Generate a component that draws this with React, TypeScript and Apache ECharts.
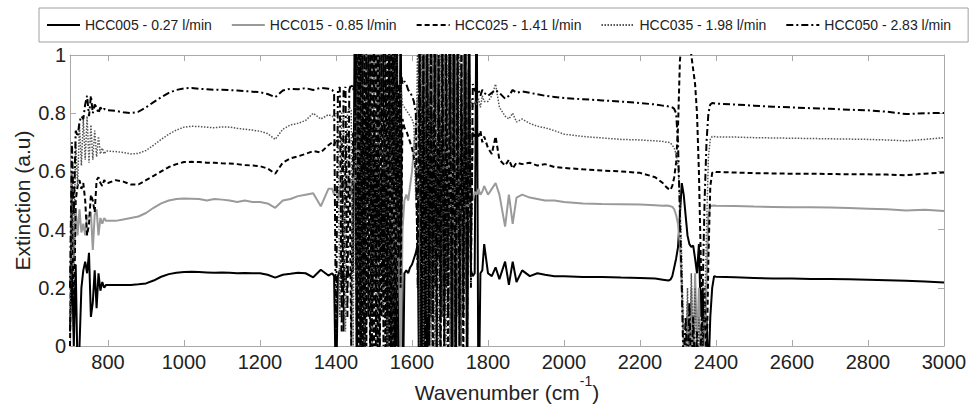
import { useEffect, useRef } from 'react';
import * as echarts from 'echarts';

// Wavenumber grid (cm^-1)
const wavenumber = [
  700, 705, 710, 715, 720, 725, 730, 735, 740, 745, 750, 755, 760, 765, 770, 775, 780, 785, 790, 795, 800,
  820, 840, 860, 880, 900, 920, 940, 960, 980, 1000, 1020, 1040, 1060, 1080, 1100, 1120, 1140, 1160, 1180, 1200,
  1220, 1240, 1260, 1280, 1300, 1320, 1340, 1360, 1380,
  1390, 1395, 1400, 1405, 1410, 1415, 1420, 1425, 1430, 1435,
  1440, 1445, 1450, 1455, 1460, 1465, 1470, 1475, 1480, 1485,
  1490, 1495, 1500, 1505, 1510, 1515, 1520, 1525, 1530, 1535,
  1540, 1545, 1550, 1555, 1560, 1565, 1570, 1575, 1580, 1585,
  1590, 1595, 1600, 1605, 1610, 1615, 1620, 1625, 1630, 1635,
  1640, 1645, 1650, 1655, 1660, 1665, 1670, 1675, 1680, 1685,
  1690, 1695, 1700, 1705, 1710, 1715, 1720, 1725, 1730, 1735,
  1740, 1745, 1750, 1755, 1760, 1765, 1770, 1775, 1780, 1785,
  1790,
  1800, 1810, 1820, 1830, 1845, 1855, 1865, 1875, 1890, 1910, 1930, 1950, 1975, 2000, 2050, 2100, 2150, 2200, 2240, 2260,
  2270, 2275, 2280, 2285, 2290, 2295, 2300, 2305, 2310, 2315,
  2320, 2325, 2330, 2335, 2340, 2345, 2350, 2355, 2360, 2365,
  2370, 2375, 2380, 2385, 2390, 2395, 2400,
  2450, 2500, 2550, 2600, 2650, 2700, 2750, 2800, 2850, 2900, 2950, 3000,
];

const hcc005 = [
  0.05, 0.3, 0.0, 0.28, -0.1, 0.0, 0.2, 0.26, 0.29, 0.25, 0.32, 0.1, 0.15, 0.26, 0.13, 0.25, 0.19, 0.22, 0.2, 0.21, 0.21,
  0.21, 0.21, 0.21, 0.212, 0.215, 0.225, 0.238, 0.247, 0.252, 0.254, 0.255, 0.254, 0.253, 0.252, 0.253, 0.252, 0.25, 0.251, 0.25, 0.25,
  0.245, 0.235, 0.245, 0.248, 0.252, 0.25, 0.236, 0.262, 0.242,
  0.25, 0.24, -0.2, 0.24, 0.26, 0.23, 0.25, 0.22, 0.26, 0.24,
  0.25, 0.26, 1.3, -0.3, 1.3, -0.3, 1.3, -0.3, 1.2, 0.5,
  0.9, 0.1, 0.8, 0.2, 0.7, 0.3, 0.6, 0.2, 0.9, -0.2,
  1.3, -0.3, 1.3, -0.3, 1.3, -0.3, 1.3, -0.3, 0.25, 0.26,
  0.25, 0.27, 0.28, 0.3, 0.32, 0.35, -0.3, 1.3, -0.3, 1.3,
  -0.2, 0.9, 0.1, 0.8, 0.2, 0.7, 0.3, 0.8, 0.1, 0.9,
  0.2, 0.6, 1.3, -0.3, 1.3, -0.3, 0.9, 0.1, 0.8, 0.2,
  1.3, -0.3, 1.3, 0.26, 0.24, 0.25, 1.3, -0.3, 0.25, 0.26,
  0.35,
  0.25, 0.24, 0.27, 0.23, 0.29, 0.21, 0.29, 0.22, 0.26, 0.24, 0.25, 0.245, 0.24, 0.24, 0.237, 0.237, 0.235, 0.234, 0.232, 0.228,
  0.226, 0.225, 0.228, 0.24, 0.27, 0.3, 0.34, 0.45, 0.56, 0.52,
  0.45, 0.38, 0.35, 0.34, 0.345, 0.3, 0.25, 0.35, 0.1, 0.2,
  -0.1, 0.1, -0.1, 0.1, 0.2, 0.24, 0.238,
  0.236, 0.234, 0.232, 0.232, 0.23, 0.23, 0.229, 0.228, 0.226, 0.224, 0.222, 0.218,
];

const hcc015 = [
  0.2, 0.45, 0.25, 0.47, 0.38, 0.47, 0.39, 0.42, 0.38, 0.45, 0.44, 0.46, 0.33, 0.45, 0.47, 0.38, 0.44, 0.42, 0.44, 0.43, 0.43,
  0.43, 0.435, 0.44, 0.445, 0.457, 0.475, 0.49, 0.5, 0.505, 0.507, 0.506, 0.505, 0.5, 0.505, 0.503, 0.5, 0.495, 0.5, 0.495, 0.495,
  0.49, 0.475, 0.5, 0.505, 0.515, 0.52, 0.525, 0.48, 0.54,
  0.54, 0.52, 0.55, 0.5, 0.54, 0.56, 0.53, 0.57, 0.54, 0.56,
  0.52, 0.58, 0.55, 0.7, 0.6, 0.9, 0.75, 1.1, 0.8, 1.1,
  0.78, 1.1, 0.82, 1.1, 0.7, 1.1, 0.8, 1.05, 0.6, 0.9,
  0.3, 0.7, 0.2, 0.6, 0.1, 0.5, -0.1, 0.4, 0.5, 0.52,
  0.5, 0.55, 0.6, 0.68, 0.75, 0.85, 0.7, 1.1, 0.75, 1.1,
  0.8, 1.1, 0.75, 1.1, 0.8, 1.1, 0.7, 1.05, 0.6, 1.0,
  0.5, 0.9, 0.4, 0.8, 0.3, 0.7, 0.2, 0.6, 0.3, 0.5,
  0.4, 0.52, 0.45, 0.55, 0.5, 0.53, 0.52, 0.54, 0.52, 0.53,
  0.55,
  0.52, 0.54, 0.56, 0.52, 0.41, 0.52, 0.42, 0.51, 0.52, 0.51, 0.505, 0.5, 0.5, 0.495, 0.49, 0.488, 0.487, 0.486, 0.484, 0.482,
  0.483, 0.482, 0.48, 0.478, 0.47, 0.45, 0.42, 0.35, 0.2, 0.0,
  -0.1, 0.15, -0.1, 0.2, -0.1, 0.25, 0.0, 0.2, -0.1, 0.1,
  -0.1, 0.2, 0.45, 0.48, 0.482, 0.483, 0.482,
  0.481, 0.479, 0.478, 0.477, 0.477, 0.476, 0.474, 0.472, 0.47, 0.466, 0.468, 0.464,
];

const hcc025 = [
  0.0, 0.55, 0.05, 0.5, 0.55, 0.57, 0.54, 0.56, 0.5, 0.38, 0.42, 0.52, 0.5, 0.46, 0.57, 0.58, 0.56, 0.55, 0.57, 0.56, 0.56,
  0.57, 0.565, 0.555, 0.555, 0.57, 0.585, 0.6, 0.615, 0.625, 0.632, 0.633, 0.632, 0.63, 0.63, 0.628, 0.627, 0.625, 0.622, 0.62, 0.618,
  0.61, 0.592, 0.63, 0.645, 0.652, 0.66, 0.67, 0.665, 0.69,
  0.7, 0.69, 0.71, 0.7, 0.72, 0.71, 0.05, 0.72, 0.73, 0.72,
  0.0, 0.73, 0.74, 1.1, -0.2, 1.1, -0.2, 1.1, 0.0, 1.0,
  -0.1, 1.1, 0.0, 1.1, -0.1, 1.0, 0.1, 1.1, -0.1, 1.1,
  0.0, 1.1, -0.2, 1.1, 0.0, 0.9, 0.2, 0.78, 0.75, 0.74,
  0.72, 0.7, 0.68, 0.65, 0.6, 0.3, 1.1, -0.1, 1.1, -0.2,
  1.0, 0.0, 1.1, -0.1, 1.1, 0.0, 1.0, -0.1, 1.1, 0.0,
  1.1, -0.1, 1.0, 0.0, 1.1, -0.1, 1.1, 0.0, 1.0, -0.1,
  1.1, 0.1, 0.9, 0.3, 0.75, 0.72, 0.73, 0.72, 0.74, 0.7,
  0.72,
  0.68, 0.66, 0.72, 0.64, 0.62, 0.64, 0.61, 0.63, 0.625, 0.63, 0.62, 0.625, 0.615, 0.612, 0.607, 0.603, 0.6, 0.595, 0.58, 0.56,
  0.545, 0.54, 0.536, 0.55, 0.58, 0.63, 0.75, 0.98, 1.05, 1.08,
  1.09, 1.08, 1.05, 1.0, 0.95, 0.9, 0.8, 0.6, 0.3, 0.0,
  0.2, -0.1, 0.3, 0.55, 0.595, 0.6, 0.598,
  0.596, 0.594, 0.593, 0.592, 0.592, 0.591, 0.59, 0.59, 0.589, 0.587, 0.592, 0.596,
];

const hcc035 = [
  0.1, 0.6, 0.3, 0.7, 0.55, 0.76, 0.62, 0.78, 0.64, 0.79, 0.63, 0.76, 0.64, 0.74, 0.65, 0.72, 0.66, 0.68, 0.66, 0.67, 0.67,
  0.668, 0.665, 0.66, 0.662, 0.672, 0.69, 0.71, 0.728, 0.742, 0.752, 0.755, 0.754, 0.752, 0.75, 0.753, 0.752, 0.748, 0.745, 0.742, 0.738,
  0.73, 0.71, 0.745, 0.76, 0.765, 0.775, 0.8, 0.78, 0.795,
  0.79, 0.78, 0.8, 0.79, 0.1, 0.8, 0.81, 0.05, 0.8, 0.82,
  0.81, 0.0, 0.82, 0.2, 1.1, 0.0, 1.1, -0.1, 1.0, 0.1,
  1.1, 0.0, 1.1, -0.1, 1.0, 0.0, 1.1, 0.1, 1.0, -0.1,
  1.1, 0.0, 1.0, 0.1, 1.1, 0.2, 0.9, 0.83, 0.82, 0.81,
  0.8, 0.79, 0.78, 0.76, 0.5, 1.1, 0.0, 1.1, -0.1, 1.0,
  0.1, 1.1, 0.0, 1.0, -0.1, 1.1, 0.0, 1.0, 0.1, 1.1,
  0.0, 1.0, -0.1, 1.1, 0.0, 1.0, 0.1, 1.1, 0.0, 1.0,
  0.2, 0.95, 0.4, 0.85, 0.82, 0.84, 0.83, 0.85, 0.82, 0.86,
  0.84,
  0.84, 0.86, 0.9, 0.82, 0.79, 0.78, 0.8, 0.77, 0.78, 0.765, 0.755, 0.75, 0.74, 0.728, 0.72, 0.715, 0.71, 0.708, 0.705, 0.703,
  0.7, 0.7, 0.698, 0.69, 0.68, 0.66, 0.62, 0.5, 0.3, 0.0,
  -0.1, 0.2, -0.1, 0.25, 0.0, 0.2, -0.1, 0.1, -0.1, 0.05,
  0.1, 0.4, 0.65, 0.71, 0.72, 0.72, 0.718,
  0.718, 0.716, 0.715, 0.714, 0.713, 0.712, 0.711, 0.71, 0.708, 0.705, 0.71, 0.716,
];

const hcc050 = [
  0.2, 0.7, 0.45, 0.74, 0.72, 0.77, 0.79, 0.78, 0.83, 0.86, 0.79, 0.86, 0.8, 0.83, 0.82, 0.8, 0.82, 0.81, 0.815, 0.81, 0.81,
  0.808, 0.803, 0.8, 0.805, 0.82, 0.838, 0.855, 0.87, 0.88, 0.885, 0.887, 0.884, 0.882, 0.88, 0.881, 0.879, 0.878, 0.876, 0.874, 0.872,
  0.866, 0.855, 0.878, 0.884, 0.882, 0.886, 0.88, 0.887, 0.884,
  0.88, 0.87, 0.0, 0.88, 0.89, 0.05, 0.88, 0.89, 0.1, 0.88,
  0.9, 0.88, 0.9, 0.0, 1.1, -0.1, 1.0, 0.0, 1.1, 0.1,
  1.0, -0.1, 1.1, 0.0, 1.1, -0.1, 1.0, 0.0, 1.1, 0.1,
  1.0, -0.1, 1.1, 0.0, 1.0, 0.3, 0.95, 0.9, 0.91, 0.9,
  0.88, 0.87, 0.86, 0.84, 0.8, 0.2, 1.1, 0.0, 1.0, -0.1,
  1.1, 0.0, 1.0, 0.1, 1.1, -0.1, 1.0, 0.0, 1.1, -0.1,
  1.0, 0.1, 1.1, 0.0, 1.0, -0.1, 1.1, 0.0, 1.0, 0.1,
  1.1, 0.0, 1.0, 0.2, 0.9, 0.88, 0.87, 0.88, 0.86, 0.88,
  0.87,
  0.86, 0.87, 0.88, 0.87, 0.85, 0.86, 0.88, 0.87, 0.875, 0.87, 0.865, 0.86, 0.856, 0.852, 0.848, 0.844, 0.84, 0.835, 0.83, 0.826,
  0.825, 0.823, 0.822, 0.82, 0.815, 0.8, 0.7, 0.45, 0.2, -0.1,
  0.1, -0.1, 0.15, -0.1, 0.1, -0.1, 0.05, -0.1, 0.0, 0.2,
  0.5, 0.7, 0.8, 0.83, 0.835, 0.834, 0.833,
  0.83, 0.826, 0.822, 0.82, 0.817, 0.815, 0.812, 0.81, 0.805, 0.797, 0.8, 0.801,
];

const seriesNames = [
  'HCC005 - 0.27 l/min',
  'HCC015 - 0.85 l/min',
  'HCC025 - 1.41 l/min',
  'HCC035 - 1.98 l/min',
  'HCC050 - 2.83 l/min',
];

const xTicks = [800, 1000, 1200, 1400, 1600, 1800, 2000, 2200, 2400, 2600, 2800, 3000];

const FONT = '"Liberation Sans", Arial, Helvetica, sans-serif';
const AXIS_COLOR = '#a9a9a9';

const styles = [
  { color: '#000000', width: 2, type: 'solid' as any },
  { color: '#9a9a9a', width: 2, type: 'solid' as any },
  { color: '#000000', width: 2, type: [5, 3] as any },
  { color: '#555555', width: 1.5, type: [1.5, 1.5] as any },
  { color: '#000000', width: 2, type: [7, 3, 2, 3] as any },
];

function buildOption() {
  const values = [hcc005, hcc015, hcc025, hcc035, hcc050];
  const axisCommonX = {
    type: 'value' as const,
    min: 700,
    max: 3000,
    splitLine: { show: false },
    axisLine: { show: true, onZero: false, lineStyle: { color: AXIS_COLOR, width: 1 } },
    axisTick: { show: true, inside: true, length: 6, customValues: xTicks, lineStyle: { color: AXIS_COLOR } },
  };
  const axisCommonY = {
    type: 'value' as const,
    min: 0,
    max: 1,
    interval: 0.2,
    splitLine: { show: false },
    axisLine: { show: true, onZero: false, lineStyle: { color: AXIS_COLOR, width: 1 } },
    axisTick: { show: true, inside: true, length: 6, lineStyle: { color: AXIS_COLOR } },
  };
  return {
    animation: false,
    backgroundColor: '#ffffff',
    textStyle: { fontFamily: FONT },
    grid: { left: 70, right: 26, top: 55, bottom: 60, outerBoundsMode: 'none' },
    legend: {
      data: seriesNames,
      left: 39,
      top: 8,
      padding: [10, 17, 10, 7],
      itemGap: 19,
      itemWidth: 33,
      itemHeight: 14,
      borderColor: '#a0a0a0',
      borderWidth: 1,
      backgroundColor: '#ffffff',
      selectedMode: false,
      itemStyle: { opacity: 0, color: 'rgba(0,0,0,0)', borderWidth: 0 },
      textStyle: { fontSize: 14, color: '#222', fontFamily: FONT },
    },
    xAxis: [
      {
        ...axisCommonX,
        position: 'bottom',
        axisLabel: {
          show: true,
          customValues: xTicks,
          fontSize: 20,
          color: '#222',
          margin: 6,
          fontFamily: FONT,
          formatter: (v: number) => String(v),
        },
        name: 'Wavenumber (cm{sup|-1})',
        nameLocation: 'middle',
        nameGap: 28,
        nameMoveOverlap: false,
        nameTextStyle: {
          fontSize: 21,
          color: '#222',
          fontFamily: FONT,
          lineHeight: 36,
          rich: { sup: { fontSize: 14, verticalAlign: 'top', lineHeight: 16, fontFamily: FONT, color: '#222' } },
        },
      },
      { ...axisCommonX, position: 'top', axisLabel: { show: false } },
    ],
    yAxis: [
      {
        ...axisCommonY,
        position: 'left',
        axisLabel: { show: true, fontSize: 20, color: '#222', margin: 4, fontFamily: FONT },
        name: 'Extinction (a.u)',
        nameLocation: 'middle',
        nameGap: 37,
        nameMoveOverlap: false,
        nameTextStyle: { fontSize: 21, color: '#222', fontFamily: FONT },
      },
      { ...axisCommonY, position: 'right', axisLabel: { show: false } },
    ],
    series: seriesNames.map((name, i) => ({
      name,
      type: 'line',
      xAxisIndex: 0,
      yAxisIndex: 0,
      symbol: 'none',
      showSymbol: false,
      silent: true,
      clip: true,
      color: styles[i].color,
      lineStyle: styles[i],
      data: wavenumber.map((w, k) => [w, values[i][k]]),
    })),
  };
}

export default function App() {
  const ref = useRef<HTMLDivElement>(null);
  useEffect(() => {
    document.body.style.margin = '0';
    const chart = echarts.init(ref.current!, undefined, { renderer: 'svg' });
    chart.setOption(buildOption() as any);
    return () => chart.dispose();
  }, []);
  return (
    <div
      ref={ref}
      style={{ width: 970, height: 406, position: 'absolute', left: 0, top: 0, background: '#fff' }}
    />
  );
}
